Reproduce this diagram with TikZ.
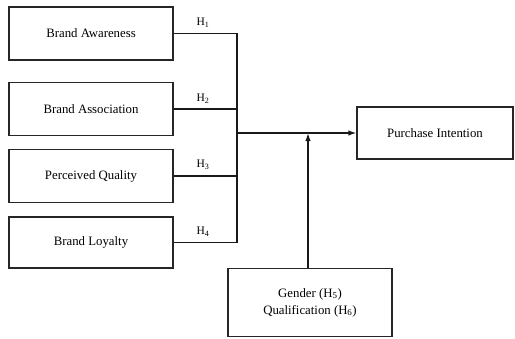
\documentclass[tikz,border=0pt]{standalone}
\usepackage{fontspec}
\setmainfont{Liberation Serif}
\usetikzlibrary{arrows.meta}
\colorlet{box edge}{black!85}
\colorlet{link line}{black!90}
\tikzset{factor/.style={draw=box edge, line width=1.3pt, minimum width=164pt,
        minimum height=53pt, font=\fontsize{12.8}{15}\selectfont},
    link/.style={draw=link line, line width=1.3pt},
    hyp/.style={font=\fontsize{11.5}{13}\selectfont, inner sep=1pt}}

\begin{document}
\begin{tikzpicture}[x=1pt,y=-1pt]
    \useasboundingbox (0,0) rectangle (515,338);
    % independent variables
    \node[factor] (aware)  at (91,33.5)  {Brand Awareness};
    \node[factor] (assoc)  at (91,109)   {Brand Association};
    \node[factor] (qual)   at (91,176)   {Perceived Quality};
    \node[factor, minimum height=51pt] (loyal) at (91,242.5) {Brand Loyalty};
    % dependent variable and moderators
    \node[factor, minimum width=156pt, minimum height=52pt] (intent) at (435,133) {Purchase Intention};
    \node[factor, minimum height=68pt, align=center] (moder) at (310,302.5)
      {Gender (H\textsubscript{5})\\[2pt]Qualification (H\textsubscript{6})};
    \coordinate (top) at (237,33.5);
    \coordinate (bot) at (237,242.5);
    \coordinate (join) at (237,133);
    \coordinate (meet) at (308,133);
    \draw[link] (aware.east) -- (top) -- (bot) -- (loyal.east);
    \draw[link] (assoc.east) -- (assoc.east -| top);
    \draw[link] (qual.east)  -- (qual.east -| top);
    \draw[link, -{Latex[length=8pt,width=5.5pt]}] (join) -- (intent.west);
    \draw[link, -{Latex[length=8pt,width=5.5pt]}] (moder.north -| meet) -- (meet);
    % hypothesis labels
    \node[hyp] (h1) at (203,23)  {H\textsubscript{1}};
    \node[hyp] (h2) at (203,99)  {H\textsubscript{2}};
    \node[hyp] (h3) at (203,165) {H\textsubscript{3}};
    \node[hyp] (h4) at (203,232) {H\textsubscript{4}};
\end{tikzpicture}
\end{document}
